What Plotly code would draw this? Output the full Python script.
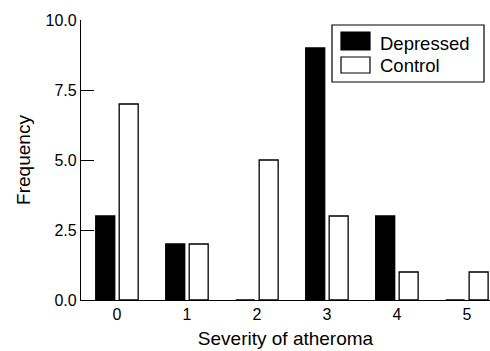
import plotly.graph_objects as go

categories = [0, 1, 2, 3, 4, 5]
depressed = [3, 2, 0, 9, 3, 0]
control = [7, 2, 5, 3, 1, 1]
y_ticks = [0, 2.5, 5, 7.5, 10]
series_names = ["Depressed", "Control"]
series_fill = ["black", "white"]

FONT = "Liberation Sans, Arial, Helvetica, sans-serif"

fig = go.Figure()
for name, vals, fill in zip(series_names, [depressed, control], series_fill):
    fig.add_trace(go.Bar(
        x=categories, y=vals, name=name,
        marker=dict(color=fill, line=dict(color="black", width=1.3)),
        showlegend=False,
    ))

W, H = 490, 351
L, R, T, B = 81, 0, 20, 51
pw, ph = W - L - R, H - T - B

def px(x):
    return (x - L) / pw

def py(y):
    return (H - B - y) / ph

shapes = [
    dict(type="rect", xref="paper", yref="paper",
         x0=px(332), x1=px(484), y0=py(82), y1=py(25),
         line=dict(color="black", width=1.2), fillcolor="white", layer="above"),
]
annotations = []
sw_y = [(32, 50), (57, 73)]
text_y = [43, 65]
for (y0, y1), ty, name, fill in zip(sw_y, text_y, series_names, series_fill):
    shapes.append(dict(type="rect", xref="paper", yref="paper",
                       x0=px(341), x1=px(370), y0=py(y1), y1=py(y0),
                       line=dict(color="black", width=1.2), fillcolor=fill, layer="above"))
    annotations.append(dict(text=name, xref="paper", yref="paper",
                            x=px(378), y=py(ty), xanchor="left", yanchor="middle",
                            showarrow=False, font=dict(size=18.5, color="black", family=FONT)))

fig.update_layout(
    width=W, height=H,
    margin=dict(l=L, r=R, t=T, b=B, pad=0, autoexpand=False),
    paper_bgcolor="white", plot_bgcolor="white",
    barmode="group", bargap=0.33, bargroupgap=0.19,
    font=dict(family=FONT, color="black", size=16),
    shapes=shapes, annotations=annotations,
    xaxis=dict(
        range=[-0.514, 5.33], tickvals=categories,
        ticktext=[str(c) for c in categories],
        showline=True, linecolor="black", linewidth=1.3,
        ticks="", showgrid=False, zeroline=False, automargin=False,
        tickfont=dict(size=16),
        title=dict(text="Severity of atheroma", font=dict(size=19), standoff=9),
    ),
    yaxis=dict(
        range=[0, 10], tickvals=y_ticks, tickformat=".1f",
        showline=True, linecolor="black", linewidth=1.3,
        ticks="inside", ticklen=13, tickcolor="black", tickwidth=1.3,
        showgrid=False, zeroline=False, automargin=False,
        tickfont=dict(size=16),
        title=dict(text="Frequency", font=dict(size=19), standoff=9),
    ),
)

fig.write_html("out.html", config={"displayModeBar": False},
               post_script="document.body.style.margin='0';document.body.style.overflow='hidden';")
